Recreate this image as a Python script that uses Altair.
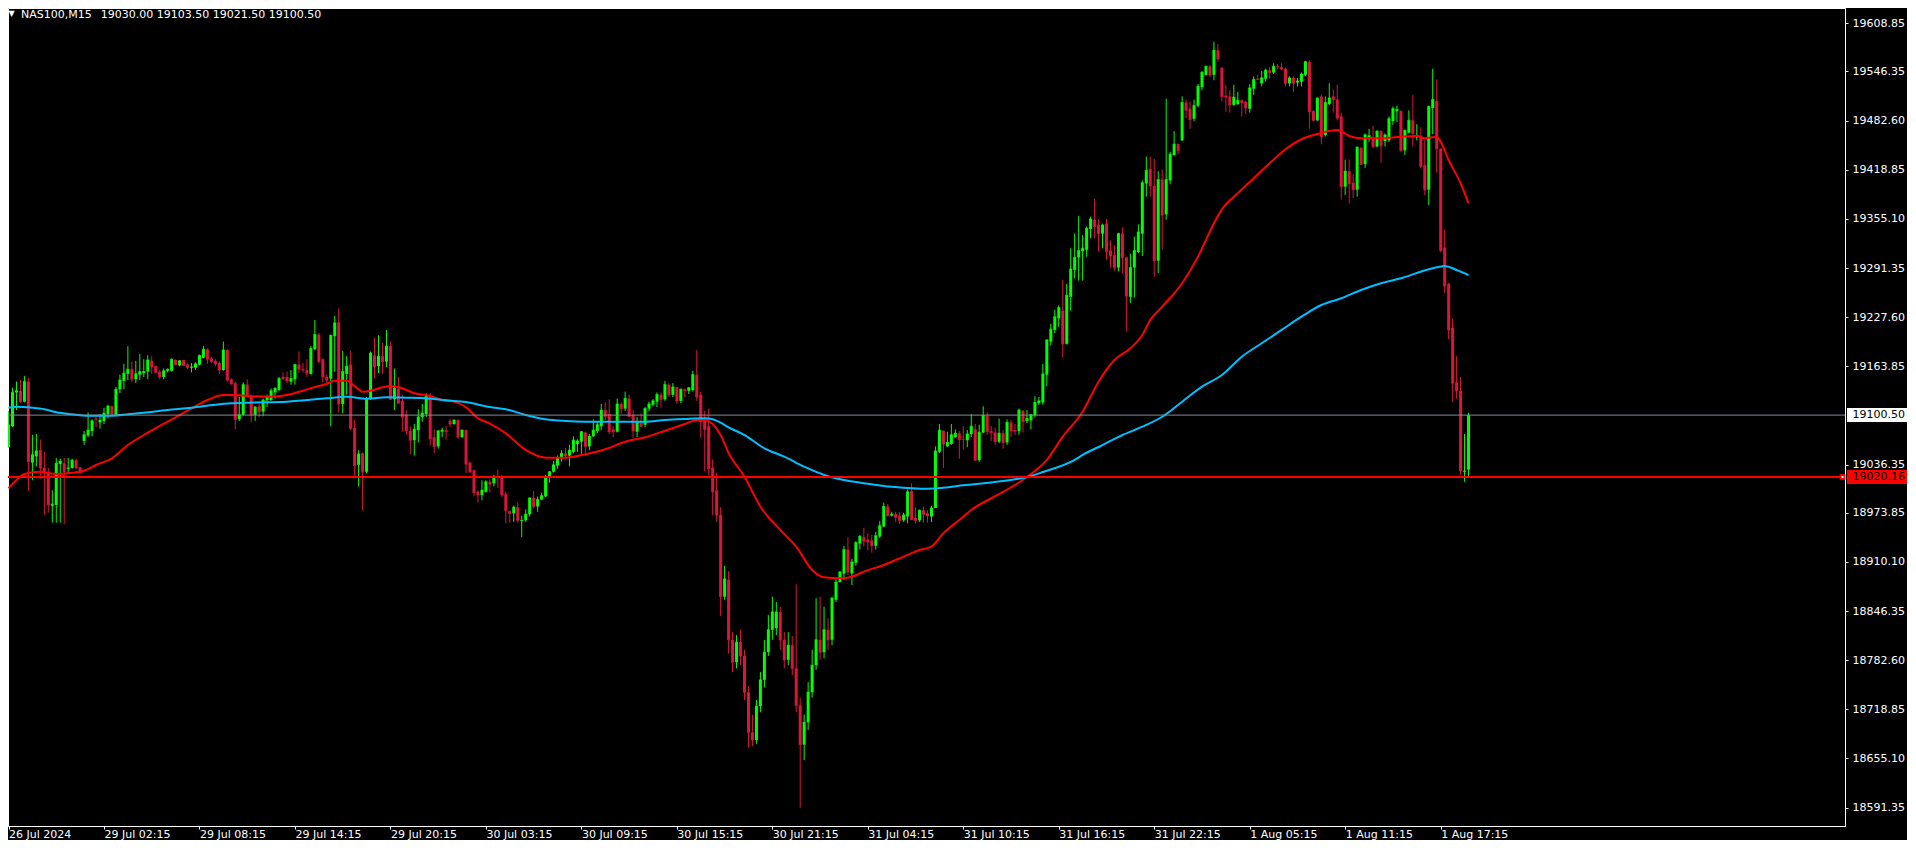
import json
import altair as alt
import pandas as pd

# ---------------- data (NAS100, M15) ----------------
OPEN = [
    19059, 19086, 19130, 19132, 19118, 19144, 19039, 19047, 19055, 19032,
    19026, 18983, 18984, 19037, 19038, 19031, 19032, 19042, 19033, 19067,
    19074, 19080, 19096, 19091, 19093, 19102, 19112, 19101, 19134, 19145,
    19154, 19160, 19147, 19153, 19155, 19157, 19171, 19164, 19157, 19150,
    19158, 19158, 19172, 19165, 19172, 19166, 19162, 19162, 19166, 19175,
    19186, 19174, 19171, 19168, 19159, 19185, 19147, 19142, 19095, 19101,
    19140, 19125, 19101, 19112, 19105, 19120, 19120, 19130, 19133, 19150,
    19150, 19144, 19147, 19166, 19160, 19159, 19154, 19186, 19205, 19173,
    19150, 19148, 19203, 19221, 19115, 19154, 19166, 19084, 19036, 19051,
    19027, 19122, 19178, 19164, 19177, 19170, 19190, 19121, 19135, 19119,
    19101, 19080, 19068, 19081, 19098, 19102, 19124, 19072, 19060, 19079,
    19081, 19093, 19089, 19094, 19072, 19081, 19039, 19029, 19001, 18997,
    19001, 19014, 19012, 19021, 19021, 18998, 18976, 18973, 18981, 18963,
    18964, 18972, 18993, 18982, 18991, 18995, 19019, 19027, 19035, 19046,
    19051, 19048, 19053, 19063, 19066, 19078, 19060, 19073, 19080, 19086,
    19107, 19102, 19082, 19079, 19115, 19109, 19122, 19101, 19079, 19091,
    19088, 19109, 19114, 19118, 19127, 19121, 19140, 19127, 19137, 19119,
    19134, 19132, 19133, 19153, 19127, 19095, 19086, 19032, 19003, 18971,
    18865, 18887, 18809, 18780, 18806, 18788, 18741, 18689, 18679, 18723,
    18757, 18793, 18822, 18824, 18845, 18809, 18783, 18802, 18772, 18724,
    18673, 18702, 18741, 18776, 18809, 18793, 18822, 18809, 18861, 18884,
    18895, 18926, 18895, 18909, 18934, 18942, 18939, 18938, 18931, 18943,
    18956, 18982, 18970, 18972, 18970, 18964, 18969, 19002, 18967, 18964,
    18977, 18973, 18969, 18980, 19053, 19080, 19060, 19063, 19072, 19077,
    19069.5, 19068, 19076, 19082, 19042, 19078, 19100, 19080, 19078, 19066,
    19077, 19065, 19091, 19081, 19080, 19106, 19093, 19094, 19100, 19116,
    19117, 19153, 19196, 19211, 19226, 19236, 19193, 19254, 19289, 19305,
    19313, 19315, 19342, 19354, 19347, 19336, 19349, 19314, 19308, 19292,
    19336, 19305, 19254, 19292, 19312, 19336, 19401, 19420, 19398, 19301,
    19406, 19361, 19405, 19438, 19452, 19457, 19506, 19498, 19485, 19502,
    19526, 19542, 19553, 19542, 19574, 19551, 19515, 19514, 19503, 19504,
    19509, 19507, 19498, 19524, 19537, 19531, 19537, 19548, 19545, 19553,
    19552, 19550, 19531, 19538, 19532, 19533, 19542, 19559, 19495, 19483,
    19514, 19464, 19504, 19514, 19510, 19488, 19397, 19417, 19402, 19393,
    19447, 19426, 19461, 19461, 19449, 19469, 19456, 19457, 19482, 19495,
    19495, 19444, 19467, 19483, 19461, 19463, 19425, 19393, 19499, 19508,
    19446, 19318, 19271, 19214, 19143, 19132, 19027, 19030.00,
]
HIGH = [
    19106, 19136, 19144, 19146, 19151, 19149, 19075, 19076, 19069, 19053,
    19032, 19003, 19045, 19044, 19045, 19045, 19044, 19044, 19033, 19080,
    19104, 19095, 19101, 19102, 19110, 19114, 19113, 19137, 19153, 19167,
    19190, 19170, 19171, 19180, 19173, 19178, 19177, 19165, 19159, 19161,
    19161, 19174, 19173, 19172, 19172, 19167, 19168, 19169, 19179, 19190,
    19187, 19176, 19173, 19170, 19196, 19186, 19148, 19144, 19124, 19143,
    19147, 19127, 19112, 19115, 19122, 19127, 19135, 19137, 19150, 19156,
    19157, 19159, 19167, 19183, 19168, 19173, 19190, 19224, 19207, 19174,
    19153, 19205, 19229, 19239, 19184, 19177, 19184, 19094, 19055, 19052,
    19124, 19183, 19201, 19204, 19194, 19211, 19196, 19161, 19150, 19127,
    19107, 19086, 19089, 19108, 19115, 19129, 19129, 19082, 19081, 19084,
    19086, 19096, 19095, 19095, 19082, 19082, 19040, 19030, 19003, 19016,
    19016, 19017, 19023, 19030, 19023, 19001, 18977, 18983, 18987, 18970,
    18978, 18994, 19002, 18995, 19000, 19023, 19028, 19041, 19048, 19055,
    19058, 19062, 19073, 19069, 19080, 19079, 19076, 19095, 19092, 19115,
    19117, 19121, 19086, 19122, 19117, 19131, 19127, 19107, 19098, 19103,
    19111, 19118, 19121, 19130, 19130, 19145, 19142, 19142, 19137, 19135,
    19135, 19137, 19158, 19185, 19131, 19106, 19109, 19043, 19026, 18981,
    18905, 18898, 18819, 18815, 18822, 18796, 18749, 18712, 18731, 18767,
    18809, 18841, 18865, 18858, 18852, 18819, 18819, 18814, 18881, 18734,
    18712, 18754, 18796, 18863, 18865, 18852, 18837, 18865, 18887, 18898,
    18931, 18942, 18914, 18937, 18945, 18954, 18947, 18945, 18949, 18963,
    18987, 18985, 18975, 18975, 18975, 18974, 19004, 19012, 18981, 18978,
    18982, 18977, 18983, 19060, 19089, 19081, 19079, 19089, 19082, 19080,
    19086, 19081, 19102, 19089, 19088, 19112, 19104, 19086, 19084, 19096,
    19081, 19095, 19094, 19089, 19109, 19107, 19107, 19102, 19125, 19124,
    19167, 19199, 19219, 19237, 19243, 19276, 19271, 19317, 19336, 19359,
    19334, 19345, 19358, 19381, 19355, 19349, 19355, 19327, 19321, 19337,
    19344, 19306, 19310, 19332, 19348, 19405, 19436, 19436, 19433, 19417,
    19419, 19511, 19442, 19469, 19453, 19514, 19510, 19507, 19510, 19530,
    19547, 19554, 19555, 19585, 19582, 19552, 19529, 19522, 19529, 19520,
    19510, 19508, 19530, 19540, 19542, 19547, 19550, 19552, 19557, 19556,
    19557, 19551, 19540, 19540, 19538, 19545, 19560, 19561, 19496, 19512,
    19516, 19514, 19531, 19523, 19529, 19493, 19432, 19432, 19413, 19449,
    19449, 19466, 19472, 19476, 19470, 19470, 19466, 19488, 19501, 19502,
    19496, 19471, 19496, 19516, 19478, 19474, 19457, 19502, 19550, 19536,
    19447, 19341, 19272, 19226, 19177, 19150, 19076, 19103.50,
]
LOW = [
    19058, 19085, 19107, 19116, 19117, 19002, 19016, 19034, 19018, 18971,
    18974, 18961, 18961, 18961, 18959, 19025, 19031, 19031, 19025, 19062,
    19072, 19073, 19085, 19083, 19089, 19096, 19101, 19100, 19129, 19134,
    19146, 19143, 19142, 19146, 19150, 19147, 19154, 19155, 19147, 19147,
    19156, 19157, 19165, 19164, 19164, 19160, 19156, 19159, 19165, 19174,
    19167, 19168, 19164, 19154, 19158, 19144, 19140, 19082, 19093, 19100,
    19124, 19091, 19093, 19098, 19099, 19111, 19119, 19122, 19132, 19146,
    19142, 19140, 19140, 19155, 19156, 19150, 19153, 19185, 19168, 19143,
    19142, 19086, 19157, 19104, 19103, 19127, 19081, 19022, 19008, 18977,
    19025, 19120, 19148, 19155, 19154, 19163, 19120, 19107, 19115, 19079,
    19075, 19050, 19048, 19065, 19092, 19098, 19061, 19051, 19057, 19072,
    19069, 19085, 19088, 19070, 19071, 19025, 19025, 18995, 18987, 18990,
    19000, 19000, 19008, 19006, 18994, 18960, 18961, 18962, 18961, 18942,
    18962, 18969, 18980, 18975, 18990, 18994, 19013, 19026, 19031, 19040,
    19043, 19034, 19051, 19053, 19049, 19051, 19055, 19072, 19077, 19081,
    19094, 19076, 19072, 19078, 19102, 19106, 19098, 19071, 19072, 19085,
    19085, 19106, 19112, 19111, 19110, 19119, 19124, 19124, 19115, 19116,
    19124, 19128, 19131, 19119, 19071, 19028, 19023, 18971, 18962, 18840,
    18861, 18791, 18767, 18772, 18776, 18731, 18669, 18671, 18674, 18715,
    18747, 18788, 18809, 18815, 18796, 18772, 18776, 18763, 18715, 18591,
    18653, 18692, 18734, 18770, 18783, 18785, 18796, 18802, 18858, 18883,
    18887, 18893, 18880, 18905, 18926, 18930, 18925, 18922, 18926, 18941,
    18955, 18969, 18969, 18962, 18959, 18962, 18960, 18964, 18960, 18962,
    18961, 18961, 18962, 18980, 19051, 19032, 19059, 19062, 19071, 19044,
    19056, 19059, 19072, 19041, 19040, 19077, 19075, 19067, 19062, 19064,
    19057, 19062, 19072, 19075, 19075, 19078, 19090, 19082, 19098, 19114,
    19114, 19138, 19191, 19207, 19215, 19175, 19192, 19236, 19278, 19275,
    19275, 19306, 19330, 19330, 19313, 19317, 19302, 19292, 19288, 19287,
    19284, 19209, 19246, 19253, 19311, 19307, 19384, 19384, 19280, 19285,
    19315, 19354, 19400, 19437, 19439, 19456, 19486, 19472, 19482, 19500,
    19522, 19541, 19539, 19535, 19559, 19508, 19494, 19493, 19502, 19503,
    19488, 19491, 19493, 19516, 19535, 19527, 19533, 19537, 19543, 19549,
    19548, 19527, 19527, 19520, 19527, 19527, 19540, 19472, 19482, 19482,
    19452, 19462, 19503, 19493, 19483, 19380, 19386, 19375, 19382, 19384,
    19425, 19421, 19455, 19447, 19448, 19428, 19449, 19455, 19477, 19481,
    19442, 19438, 19466, 19449, 19457, 19421, 19386, 19373, 19465, 19415,
    19312, 19259, 19199, 19118, 19122, 19023, 19014, 19021.50,
]
CLOSE = [
    19088, 19130, 19132, 19118, 19144, 19040, 19049, 19054, 19032, 19025,
    18984, 18985, 19038, 19041, 19027, 19032, 19042, 19032, 19026, 19075,
    19081, 19093, 19095, 19094, 19103, 19112, 19102, 19134, 19146, 19155,
    19160, 19147, 19154, 19157, 19157, 19172, 19163, 19156, 19150, 19158,
    19160, 19173, 19166, 19171, 19165, 19162, 19163, 19167, 19178, 19186,
    19173, 19170, 19167, 19159, 19185, 19146, 19141, 19095, 19101, 19140,
    19124, 19101, 19111, 19105, 19120, 19124, 19132, 19135, 19148, 19148,
    19145, 19148, 19166, 19160, 19159, 19155, 19187, 19205, 19170, 19150,
    19146, 19204, 19220, 19115, 19157, 19164, 19083, 19035, 19050, 19027,
    19122, 19181, 19163, 19177, 19170, 19190, 19121, 19135, 19116, 19098,
    19080, 19068, 19082, 19098, 19103, 19125, 19070, 19060, 19080, 19081,
    19079, 19089, 19094, 19072, 19081, 19037, 19027, 19000, 18997, 19003,
    19014, 19011, 19021, 19020, 18997, 18977, 18973, 18981, 18964, 18964,
    18972, 18993, 18982, 18991, 18996, 19019, 19027, 19036, 19045, 19051,
    19048, 19055, 19068, 19067, 19079, 19060, 19073, 19081, 19088, 19107,
    19099, 19079, 19079, 19115, 19109, 19122, 19099, 19080, 19092, 19086,
    19109, 19115, 19119, 19127, 19121, 19140, 19127, 19137, 19119, 19134,
    19132, 19136, 19153, 19124, 19092, 19082, 19031, 19001, 18971, 18865,
    18888, 18809, 18780, 18806, 18788, 18741, 18689, 18679, 18723, 18757,
    18793, 18822, 18845, 18845, 18809, 18783, 18802, 18772, 18724, 18673,
    18702, 18741, 18776, 18809, 18793, 18822, 18809, 18863, 18884, 18897,
    18926, 18897, 18910, 18935, 18943, 18937, 18936, 18931, 18944, 18957,
    18982, 18970, 18972, 18968, 18964, 18971, 19001, 18965, 18964, 18977,
    18972, 18970, 18980, 19054, 19081, 19063, 19065, 19075, 19077, 19069,
    19069, 19076, 19086, 19042, 19078, 19100, 19079, 19078, 19066, 19077,
    19065, 19091, 19080, 19080, 19107, 19092, 19096, 19101, 19117, 19119,
    19154, 19198, 19212, 19228, 19240, 19193, 19256, 19290, 19305, 19314,
    19317, 19343, 19355, 19345, 19336, 19347, 19313, 19307, 19292, 19336,
    19305, 19255, 19292, 19314, 19338, 19402, 19418, 19398, 19301, 19406,
    19360, 19406, 19439, 19452, 19444, 19506, 19496, 19484, 19502, 19527,
    19545, 19553, 19542, 19574, 19563, 19514, 19513, 19503, 19513, 19509,
    19506, 19499, 19525, 19536, 19536, 19538, 19548, 19545, 19553, 19552.5,
    19549.5, 19531, 19538, 19531, 19534, 19543, 19559, 19494, 19483, 19512,
    19462, 19506, 19512, 19510, 19486, 19397, 19417, 19401, 19393, 19448,
    19426, 19464, 19463, 19449, 19469, 19450, 19464, 19485, 19498, 19497,
    19444, 19470, 19483, 19466, 19463, 19423, 19393, 19501, 19510, 19446,
    19314, 19268, 19211, 19142, 19132, 19028, 19028, 19100.50,
]

RED_MA_BARS = [0, 2, 4, 8, 12, 16, 19, 22, 26, 30, 34, 38, 42, 46, 50, 54, 57, 60, 66, 70,
               74, 78, 80, 82, 85, 87, 89, 91, 94, 96, 99, 102, 106, 109, 112, 115, 118, 121,
               125, 130, 135, 140, 145, 150, 155, 160, 165, 170, 173, 175, 177, 179, 181, 185,
               189, 194, 198, 202, 205, 209, 212, 215, 220, 225, 229, 232, 235, 239, 242, 250,
               256, 261, 265, 270, 274, 278, 282, 285, 287, 290, 295, 299, 301, 303, 305, 309,
               313, 317, 321, 325, 329, 334, 337, 340, 345, 350, 354, 356, 359, 360, 362, 365, 367]
RED_MA_VALUES = [19005.6, 19016.3, 19024.1, 19027.1, 19024.1, 19025.8, 19028.4, 19035.8, 19044.5,
                 19061.7, 19074.7, 19086.4, 19097.7, 19109.4, 19120.1, 19126.6, 19126.6, 19125.3,
                 19124.4, 19126.6, 19132.2, 19138.3, 19140.9, 19145.2, 19145.2, 19138.3, 19130.9,
                 19132.2, 19136.6, 19138.3, 19135.3, 19128.8, 19125.3, 19120.1, 19118.0, 19110.7,
                 19096.4, 19089.6, 19076.9, 19055.3, 19045.3, 19045.3, 19049.7, 19056.2, 19066.0,
                 19071.7, 19080.3, 19089.0, 19094.2, 19094.2, 19089.0, 19074.7, 19051.4, 19020.6,
                 18981.7, 18951.5, 18929.8, 18899.6, 18890.1, 18888.8, 18890.9, 18897.4, 18906.1,
                 18916.9, 18925.5, 18929.8, 18947.2, 18964.5, 18977.4, 19000.8, 19020.2, 19042.3,
                 19072.5, 19105.0, 19143.9, 19172.0, 19187.2, 19204.5, 19223.9, 19241.2, 19271.6,
                 19306.1, 19327.7, 19349.4, 19367.5, 19388.3, 19407.8, 19427.2, 19445.4, 19458.4,
                 19465.2, 19470.4, 19462.7, 19459.7, 19459.7, 19461.7, 19462.7, 19459.7, 19461.7,
                 19455.3, 19431.5, 19401.3, 19375.3]

BLUE_MA_BARS = [0, 2, 6, 9, 12, 16, 20, 26, 30, 34, 40, 46, 52, 56, 60, 70, 80, 85, 90, 95, 100,
                105, 110, 115, 121, 125, 130, 135, 140, 145, 155, 160, 165, 170, 175, 177, 179,
                181, 185, 190, 195, 200, 205, 210, 215, 220, 225, 230, 235, 240, 250, 256, 260,
                268, 270, 275, 280, 285, 290, 295, 300, 305, 310, 315, 320, 325, 330, 335, 340,
                345, 350, 355, 358, 361, 364, 367]
BLUE_MA_VALUES = [19110.1, 19111.4, 19110.1, 19108.1, 19104.2, 19101.6, 19099.8, 19099.8, 19101.6,
                  19103.7, 19107.2, 19110.1, 19114.0, 19115.8, 19116.7, 19118.0, 19122.3, 19124.4,
                  19121.8, 19123.6, 19123.1, 19122.3, 19119.7, 19117.5, 19111.0, 19108.1, 19100.7,
                  19095.1, 19092.9, 19092.0, 19092.0, 19092.0, 19094.2, 19095.5, 19096.4, 19095.1,
                  19090.7, 19084.7, 19074.7, 19057.5, 19046.6, 19033.6, 19022.9, 19016.3, 19012.1,
                  19008.5, 19006.4, 19005.1, 19006.4, 19009.5, 19015.1, 19020.2, 19026.7, 19042.3,
                  19048.8, 19061.7, 19074.7, 19085.5, 19098.4, 19117.9, 19137.4, 19152.6, 19176.3,
                  19193.7, 19211.0, 19228.2, 19243.4, 19252.1, 19262.9, 19271.6, 19278.0, 19286.6,
                  19291.0, 19294.0, 19288.8, 19282.3]

Y_TICKS = [19608.85, 19546.35, 19482.60, 19418.85, 19355.10, 19291.35, 19227.60, 19163.85,
           19036.35, 18973.85, 18910.10, 18846.35, 18782.60, 18718.85, 18655.10, 18591.35]
X_TICK_BARS = [0, 24, 48, 72, 96, 120, 144, 168, 192, 216, 240, 264, 288, 312, 336, 360]
X_TICK_LABELS = ["26 Jul 2024", "29 Jul 02:15", "29 Jul 08:15", "29 Jul 14:15", "29 Jul 20:15",
                 "30 Jul 03:15", "30 Jul 09:15", "30 Jul 15:15", "30 Jul 21:15", "31 Jul 04:15",
                 "31 Jul 10:15", "31 Jul 16:15", "31 Jul 22:15", "1 Aug 05:15", "1 Aug 11:15",
                 "1 Aug 17:15"]

BID_PRICE = 19100.50
LEVEL_PRICE = 19020.16
SYMBOL_TEXT = "NAS100,M15"
OHLC_TEXT = "19030.00 19103.50 19021.50 19100.50"

# ---------------- tables ----------------
candles = pd.DataFrame({"bar": list(range(len(CLOSE))), "open": OPEN, "high": HIGH,
                        "low": LOW, "close": CLOSE})
candles["dir"] = ["up" if c >= o else "down" for o, c in zip(OPEN, CLOSE)]
red_ma = pd.DataFrame({"bar": RED_MA_BARS, "value": RED_MA_VALUES})
blue_ma = pd.DataFrame({"bar": BLUE_MA_BARS, "value": BLUE_MA_VALUES})
bid_df = pd.DataFrame({"price": [BID_PRICE], "label": [f"{BID_PRICE:.2f}"]})
lvl_df = pd.DataFrame({"price": [LEVEL_PRICE], "label": [f"{LEVEL_PRICE:.2f}"]})

FONT = "DejaVu Sans"
W, H = 1837, 818

xs = alt.Scale(domain=[1.125, 460.375], nice=False, zero=False)
ys = alt.Scale(domain=[18567.43, 19628.7], nice=False, zero=False)

x_axis = alt.Axis(
    values=X_TICK_BARS,
    labelExpr=f"{json.dumps(X_TICK_LABELS)}[indexof({json.dumps(X_TICK_BARS)}, datum.value)]",
    labelAlign="left", labelBaseline="alphabetic", labelPadding=8, tickSize=3,
    labelColor="#FFFFFF", tickColor="#FFFFFF", domainColor="#FFFFFF",
    labelFont=FONT, labelFontSize=11, labelOverlap=False, labelFlush=False,
    grid=False, title=None,
)
y_axis = alt.Axis(
    values=Y_TICKS, format=".2f", orient="right", tickSize=3, labelPadding=4,
    labelColor="#FFFFFF", tickColor="#FFFFFF", domainColor="#FFFFFF",
    labelFont=FONT, labelFontSize=11, labelOverlap=False, labelBaseline="middle",
    grid=False, title=None,
)


def X(field):
    return alt.X(field, type="quantitative", scale=xs, axis=x_axis)


def Y(field):
    return alt.Y(field, type="quantitative", scale=ys, axis=y_axis)


wick_color = alt.Color("dir:N", scale=alt.Scale(domain=["up", "down"], range=["#00FF00", "#DC143C"]), legend=None)

wicks = alt.Chart(candles).mark_rule(strokeWidth=1).encode(
    x=X("bar"), y=Y("low"), y2="high", color=wick_color)
bodies = alt.Chart(candles).mark_bar(size=3).encode(
    x=X("bar"), y=Y("open"), y2="close", color=wick_color)
doji = alt.Chart(candles).mark_tick(orient="horizontal", size=3, thickness=1).encode(
    x=X("bar"), y=Y("close"), color=wick_color)

red_line = alt.Chart(red_ma).mark_line(color="#FF0000", strokeWidth=2, interpolate="monotone").encode(
    x=X("bar"), y=Y("value"))
blue_line = alt.Chart(blue_ma).mark_line(color="#00BFFF", strokeWidth=2, interpolate="monotone").encode(
    x=X("bar"), y=Y("value"))

bid_rule = alt.Chart(bid_df).mark_rule(color="#848B96", strokeWidth=1).encode(y=Y("price"))
lvl_rule = alt.Chart(lvl_df).mark_rule(color="#FF0000", strokeWidth=2).encode(y=Y("price"))
lvl_sq = alt.Chart(lvl_df).mark_point(shape="square", filled=True, size=32, color="#FF0000", opacity=1).encode(
    y=Y("price"), x=alt.value(1834.5))
lvl_sq_in = alt.Chart(lvl_df).mark_point(shape="square", filled=True, size=4, color="#FFFFFF", opacity=1).encode(
    y=Y("price"), x=alt.value(1834.5))

bid_box = alt.Chart(bid_df).mark_tick(orient="horizontal", size=60, thickness=14, color="#FFFFFF", opacity=1).encode(
    y=Y("price"), x=alt.value(1869))
bid_txt = alt.Chart(bid_df).mark_text(align="left", baseline="middle", font=FONT, fontSize=11, color="#000000").encode(
    y=Y("price"), x=alt.value(1844.5), text="label:N")
lvl_box = alt.Chart(lvl_df).mark_tick(orient="horizontal", size=60, thickness=14, color="#FF0000", opacity=1).encode(
    y=Y("price"), x=alt.value(1869))
lvl_txt = alt.Chart(lvl_df).mark_text(align="left", baseline="middle", font=FONT, fontSize=11, color="#000000").encode(
    y=Y("price"), x=alt.value(1844.5), text="label:N")

title_df = pd.DataFrame({"sym": [SYMBOL_TEXT], "ohlc": [OHLC_TEXT], "tri": ["\u25BC"]})
tri_txt = alt.Chart(title_df).mark_text(align="center", baseline="alphabetic", font=FONT, fontSize=8, color="#FFFFFF").encode(
    x=alt.value(3.5), y=alt.value(7.5), text="tri:N")
sym_txt = alt.Chart(title_df).mark_text(align="left", baseline="alphabetic", font=FONT, fontSize=11, color="#FFFFFF").encode(
    x=alt.value(13), y=alt.value(9.8), text="sym:N")
ohlc_txt = alt.Chart(title_df).mark_text(align="left", baseline="alphabetic", font=FONT, fontSize=11, color="#FFFFFF").encode(
    x=alt.value(92.7), y=alt.value(9.8), text="ohlc:N")

chart = alt.layer(
    wicks, bodies, doji, red_line, blue_line, bid_rule, lvl_rule, lvl_sq, lvl_sq_in,
    bid_box, bid_txt, lvl_box, lvl_txt, tri_txt, sym_txt, ohlc_txt,
).properties(
    width=W, height=H,
    autosize=alt.AutoSizeParams(type="none"),
    padding={"left": 0, "top": 0, "right": 62, "bottom": 14},
    background="#000000",
).configure_view(stroke="#FFFFFF", strokeWidth=1)

chart.save("out.html", embed_options={"renderer": "svg", "actions": False})
